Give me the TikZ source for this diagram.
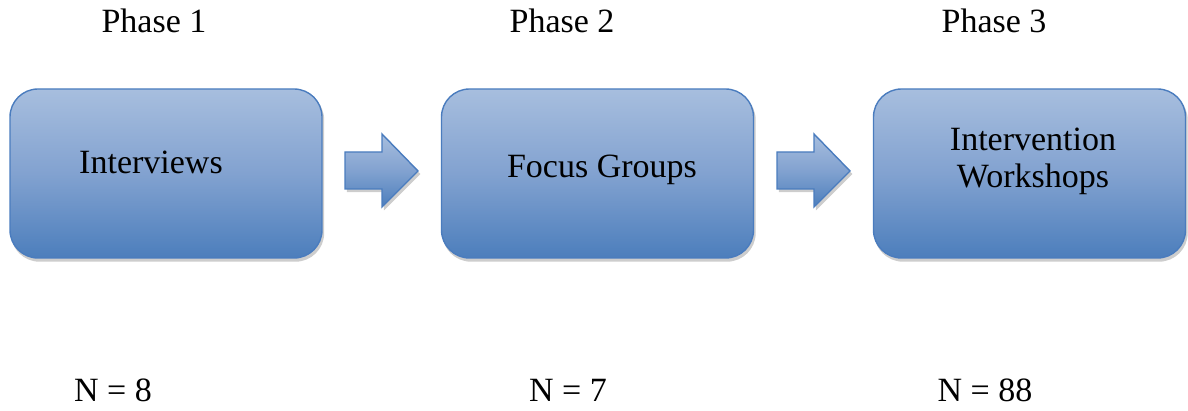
\documentclass[tikz,border=0pt]{standalone}
\usepackage{fontspec}
\setmainfont{Liberation Serif}
\definecolor{boxtop}{RGB}{167,190,222}
\definecolor{boxmid}{RGB}{130,162,208}
\definecolor{boxbot}{RGB}{76,126,188}
\definecolor{boxline}{RGB}{74,124,190}
\definecolor{shadowc}{RGB}{205,205,205}
\begin{document}
\begin{tikzpicture}[x=1pt,y=-1pt,
  phasebox/.style={draw=boxline, line width=1.4pt, rounded corners=28pt,
    top color=boxtop, bottom color=boxbot, middle color=boxmid,
    minimum width=312pt, minimum height=169pt, inner sep=0pt,
    preaction={fill=shadowc, draw=shadowc, transform canvas={xshift=1.5pt,yshift=-3pt}}},
  blockarrow/.style={draw=boxline, line width=1.4pt, line join=miter,
    top color=boxtop, bottom color=boxbot, middle color=boxmid},
  lbl/.style={font=\fontsize{34}{37}\selectfont, anchor=base, inner sep=0pt},
  boxlbl/.style={font=\fontsize{34}{37}\selectfont, align=center, inner sep=0pt, anchor=base}
]
\useasboundingbox (0,0) rectangle (1188,411);
% boxes
\node[phasebox] (b1) at (166,173.5) {};
\node[phasebox] (b2) at (597.5,173.5) {};
\node[phasebox] (b3) at (1029.5,173.5) {};
% box texts
\node[lbl] (t1) at (151,174) {Interviews};
\node[lbl] (t2) at (602,178) {Focus Groups};
\node[boxlbl] (t3) at (1033,188) {Intervention\\Workshops};
% block arrows
\draw[blockarrow, preaction={fill=shadowc, draw=shadowc, transform canvas={xshift=2pt,yshift=-3pt}}]
  (345,152) -- (382,152) -- (382,134) -- (418,171) -- (382,207) -- (382,189) -- (345,189) -- cycle;
\draw[blockarrow, preaction={fill=shadowc, draw=shadowc, transform canvas={xshift=2pt,yshift=-3pt}}]
  (777,152) -- (814,152) -- (814,134) -- (850,171) -- (814,207) -- (814,189) -- (777,189) -- cycle;
% phase titles
\node[lbl] (p1) at (154,33) {Phase 1};
\node[lbl] (p2) at (562,33) {Phase 2};
\node[lbl] (p3) at (994,33) {Phase 3};
% counts
\node[lbl] (n1) at (113,401) {N = 8};
\node[lbl] (n2) at (568,401) {N = 7};
\node[lbl] (n3) at (985,401) {N = 88};
\end{tikzpicture}
\end{document}
